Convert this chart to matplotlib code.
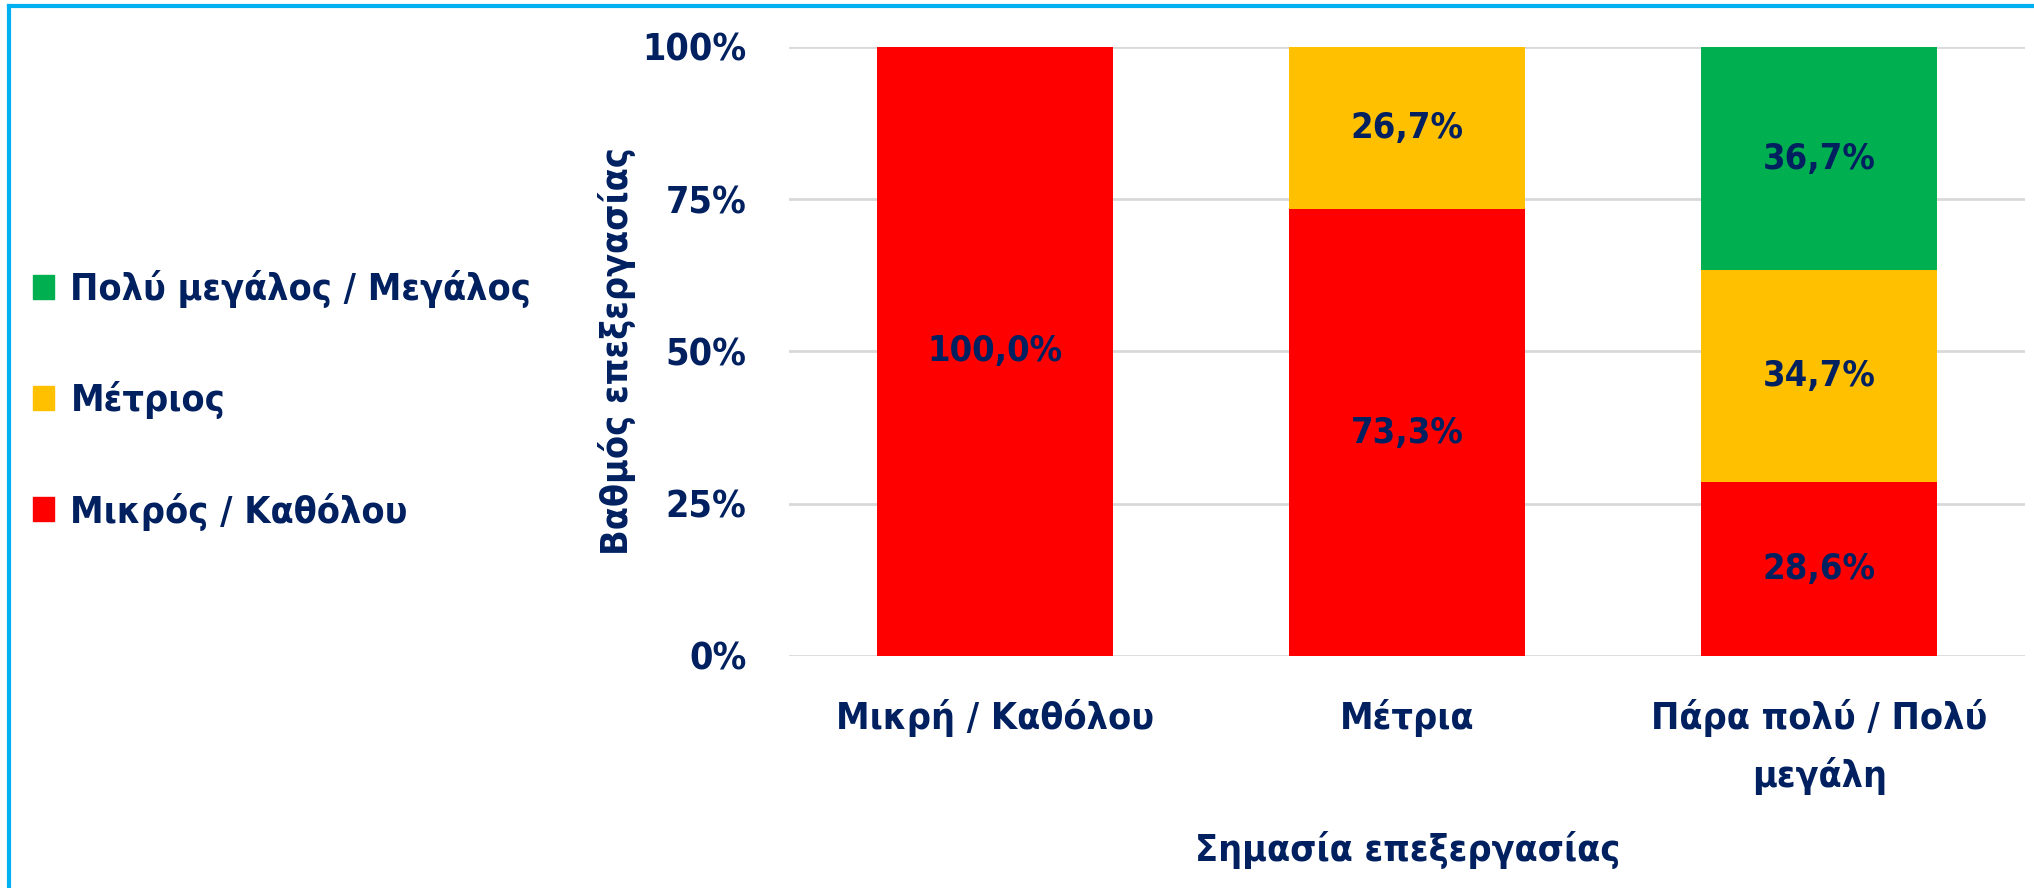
import matplotlib
matplotlib.use('Agg')
import matplotlib.pyplot as plt
from matplotlib.lines import Line2D
from matplotlib.patches import Patch
from matplotlib.ticker import PercentFormatter
import numpy as np

plt.rcParams['font.family'] = ['DejaVu Sans']
plt.rcParams['font.stretch'] = 'condensed'
plt.rcParams['font.weight'] = 'bold'

# data
categories = ['Μικρή / Καθόλου', 'Μέτρια', 'Πάρα πολύ / Πολύ\nμεγάλη']
series_names = ['Μικρός / Καθόλου', 'Μέτριος', 'Πολύ μεγάλος / Μεγάλος']
small = [100.0, 73.3, 28.6]
medium = [0.0, 26.7, 34.7]
large = [0.0, 0.0, 36.7]
y_ticks = [0, 25, 50, 75, 100]

colors = ['#FF0000', '#FFC000', '#00B050']
navy = '#002060'
fs = 27

fig = plt.figure(figsize=(20.34, 8.88), dpi=100)
ax = fig.add_axes([0.388, 0.2613, 0.6077, 0.686])

x = np.arange(len(categories))
bottom = np.zeros(len(categories))
handles = []
for vals, name, c in zip([small, medium, large], series_names, colors):
    vals = np.array(vals)
    bars = ax.bar(x, vals, width=0.573, bottom=bottom, color=c, zorder=2)
    for b, v, b0 in zip(bars, vals, bottom):
        if v > 0:
            ax.text(b.get_x() + b.get_width() / 2, b0 + v / 2,
                    f'{v:.1f}%'.replace('.', ','), ha='center', va='center',
                    color=navy, fontsize=26, fontweight='bold')
    bottom += vals
    handles.append(Patch(color=c, label=name))

ax.set_xlim(-0.5, 2.5)
ax.set_ylim(0, 100)
ax.set_yticks(y_ticks)
ax.yaxis.set_major_formatter(PercentFormatter(decimals=0))
ax.set_xticks(x)
ax.set_xticklabels(categories, linespacing=1.65)
ax.tick_params(axis='both', length=0, labelsize=fs, labelcolor=navy)
ax.tick_params(axis='x', pad=31)
ax.tick_params(axis='y', pad=31)
ax.grid(axis='y', color='#D9D9D9', lw=2, zorder=0)
for s in ax.spines.values():
    s.set_visible(False)

ax.set_ylabel('Βαθμός επεξεργασίας', fontsize=fs, color=navy, fontweight='bold')
ax.yaxis.set_label_coords(-0.124, 0.5)
ax.set_xlabel('Σημασία επεξεργασίας', fontsize=fs, color=navy, fontweight='bold')
ax.xaxis.set_label_coords(0.5, -0.288)

leg = fig.legend(handles=handles[::-1], loc='center left', bbox_to_anchor=(0.0125, 0.549),
                 frameon=False, fontsize=fs, labelcolor=navy, handlelength=0.55,
                 handleheight=0.6, handletextpad=0.45, labelspacing=1.95,
                 borderaxespad=0, borderpad=0.2)

# blue frame (left and top edges only visible)
fig.add_artist(Line2D([0.0045, 0.0045], [0, 0.993], transform=fig.transFigure, color='#00B0F0', lw=3))
fig.add_artist(Line2D([0.0045, 1], [0.993, 0.993], transform=fig.transFigure, color='#00B0F0', lw=3))

fig.savefig('out.png', dpi=100)
